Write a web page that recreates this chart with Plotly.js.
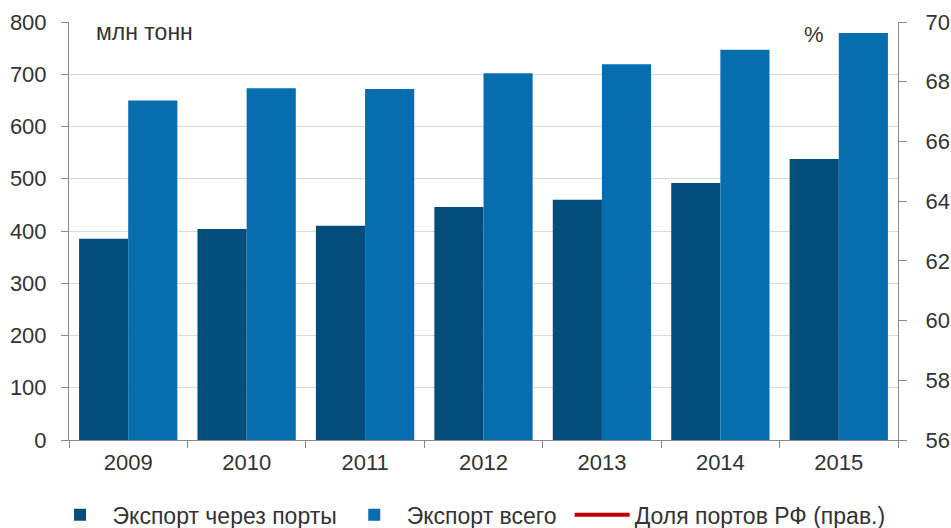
<!DOCTYPE html>
<html>
<head>
<meta charset="utf-8">
<script src="https://cdn.plot.ly/plotly-3.0.1.min.js"></script>
<style>html,body{margin:0;padding:0;background:#fff;}#chart{width:951px;height:528px;}</style>
</head>
<body>
<div id="chart"></div>
<script>
var years = ['2009', '2010', '2011', '2012', '2013', '2014', '2015'];
var exportPorts = [385, 404, 410, 446, 460, 492, 538];
var exportTotal = [650, 673, 672, 702, 719, 747, 779];
// share line is not visible in the reference picture; only its legend entry is shown
var portShare = [null, null, null, null, null, null, null];
var leftTicks = [0, 100, 200, 300, 400, 500, 600, 700, 800];
var rightTicks = [56, 58, 60, 62, 64, 66, 68, 70];

var textColor = '#333333';
var fontFamily = '"Liberation Sans", Arial, sans-serif';

var traces = [
  {type: 'bar', name: 'Экспорт через порты', x: years, y: exportPorts,
   marker: {color: '#044D7B'}, yaxis: 'y', legend: 'legend'},
  {type: 'bar', name: 'Экспорт всего', x: years, y: exportTotal,
   marker: {color: '#066DAF'}, yaxis: 'y', legend: 'legend'},
  {type: 'scatter', mode: 'lines', name: 'Доля портов РФ (прав.)', x: years, y: portShare,
   line: {color: '#C00000', width: 4}, yaxis: 'y2', legend: 'legend2'}
];

var legendFont = {size: 23, color: textColor};

var layout = {
  width: 951, height: 528,
  margin: {l: 69, r: 53, t: 22, b: 88},
  paper_bgcolor: '#ffffff', plot_bgcolor: '#ffffff',
  font: {family: fontFamily, color: textColor, size: 22},
  barmode: 'group', bargap: 0.17, bargroupgap: 0,
  showlegend: true,
  legend: {orientation: 'h', xref: 'container', yref: 'container',
           x: 0.05, xanchor: 'left', y: 0.025, yanchor: 'middle',
           font: legendFont, traceorder: 'normal', itemwidth: 55},
  legend2: {orientation: 'h', xref: 'container', yref: 'container',
           x: 0.599, xanchor: 'left', y: 0.025, yanchor: 'middle',
           font: legendFont, itemwidth: 55},
  xaxis: {type: 'category', showline: true, linecolor: '#888888', linewidth: 1,
          ticks: 'outside', tickson: 'boundaries', ticklen: 7, tickcolor: '#888888',
          ticklabelstandoff: 3,
          tickfont: {size: 22, color: textColor}, showgrid: false},
  yaxis: {range: [0, 800], tickvals: leftTicks, showline: true, linecolor: '#888888',
          ticks: 'outside', ticklen: 7, tickcolor: '#888888', gridcolor: '#D9D9D9',
          ticklabelstandoff: 10,
          tickfont: {size: 22, color: textColor}, zeroline: false, fixedrange: true},
  yaxis2: {range: [56, 70], tickvals: rightTicks, overlaying: 'y', side: 'right',
           showline: true, linecolor: '#888888', ticks: 'outside', ticklen: 8,
           tickcolor: '#888888', showgrid: false, zeroline: false,
           ticklabelstandoff: 14,
           tickfont: {size: 22, color: textColor}},
  annotations: [
    {text: 'млн тонн', xref: 'paper', yref: 'paper', x: 0.03, y: 0.975,
     xanchor: 'left', yanchor: 'middle', showarrow: false,
     font: {size: 23, color: textColor}},
    {text: '%', xref: 'paper', yref: 'paper', x: 0.884, y: 0.97,
     xanchor: 'left', yanchor: 'middle', showarrow: false,
     font: {size: 22, color: textColor}}
  ]
};

Plotly.newPlot('chart', traces, layout, {displayModeBar: false, staticPlot: true});
</script>
</body>
</html>
